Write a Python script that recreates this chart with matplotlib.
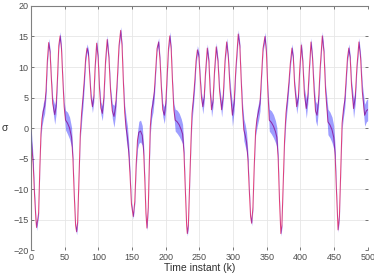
import matplotlib

matplotlib.use("Agg")
import matplotlib.pyplot as plt
import numpy as np

# time instants (k) where the trace was read off, estimated mean sigma and band half-width
k_vals = [
    0, 3, 5, 7, 8, 11, 13, 14.5, 16, 18, 20, 22, 24, 26, 28, 30, 32, 35, 37, 39,
    41, 43, 45, 47, 49, 51, 54, 57, 60, 62, 64, 66, 67.5, 69, 71, 73, 75, 77, 79, 81,
    83, 85, 87, 89, 91, 93, 95, 97.3, 99.5, 101.5, 103.5, 105.7, 108, 110.5, 113, 115.5, 118, 120.5, 123, 125.5,
    128, 130.5, 133, 135, 137, 139, 141, 143, 145, 147, 149, 151.7, 154, 156, 158, 160, 162.5, 165, 167, 169,
    170.5, 172, 174, 175.5, 177, 179, 181, 183, 185, 187, 189.4, 191.5, 193.5, 195.5, 197.8, 200, 202, 204, 206, 208,
    210, 212, 214, 217, 220, 223, 225, 227, 229, 231, 232, 233.5, 235.5, 237.5, 239, 241, 243, 245, 247, 249,
    251, 253, 255, 257, 259, 261.7, 264, 266, 268, 270, 272.5, 275, 277.5, 280, 283, 285.5, 288, 290.5, 293, 295.5,
    299, 301.5, 304, 307.7, 310, 312, 314, 316, 318, 320, 322, 324, 326, 327.6, 329.5, 331.5, 333.5, 335.5, 338, 340,
    342, 344.5, 347.4, 349.5, 351.5, 353.8, 357, 360, 363, 365, 367, 369, 371, 372.5, 374.5, 376.5, 378.6, 381, 383, 385,
    387.5, 389.5, 391.5, 394.5, 397, 399, 401.4, 403.5, 406, 408.8, 411, 413.5, 415.8, 418, 420.5, 422.5, 424.7, 427, 429.5, 432.6,
    435, 437.5, 441, 444, 447, 449.5, 451.5, 453.5, 456, 458, 460, 462, 464, 466, 468, 470, 472, 474, 476, 479,
    481.5, 484, 487, 489.5, 492, 495.5, 498, 500,
]
sigma_vals = [
    -1.5, -6, -11, -15, -16.3, -14, -6, -1, 1.5, 2.8, 3.6, 6, 11, 14, 12.5, 8, 4, 2.2, 3.5, 8,
    13.5, 15.1, 13, 8, 3.5, 1.3, 0.8, 0, -1.5, -5, -11, -16, -17, -15.5, -8, -1, 2.5, 5, 8, 11.5,
    13.1, 12.3, 8.5, 5, 3.5, 5, 10, 13.9, 11.5, 6.5, 3.3, 2.4, 5, 11, 14.5, 11.5, 6, 2.8, 1.9, 3.5,
    8, 13.5, 16, 13.5, 7.5, 2.5, 0, -1.5, -4, -8, -12.5, -14.5, -12, -6, -2, -0.7, -0.5, -1.2, -3.6, -9,
    -14, -16.4, -13, -6, 0.2, 3, 4, 6, 9.5, 13, 14.1, 11, 6.5, 3, 2.1, 4, 8.5, 13, 15.1, 13,
    7.5, 3, 1.3, 1, 0.5, -0.3, -1, -4, -10, -16, -17.3, -16, -9, -2, 2.4, 4.7, 7.5, 11, 12.8, 12,
    8.5, 5, 3.5, 5, 9, 13.1, 11, 6, 3, 4.2, 9.5, 13.3, 11, 6, 3, 5.5, 11, 14.1, 11.5, 6.5,
    2.1, 4, 9.5, 15.4, 13.5, 8, 3, -0.3, -1.2, -2.3, -5, -10, -14.5, -15.6, -13, -6, -0.5, 1.5, 2.8, 4,
    8, 13, 15, 12.5, 6.5, 1.3, 0.9, 0.3, -0.6, -1.5, -5, -12, -17.3, -16, -9, -2, 2.4, 5, 7.5, 10.5,
    13.1, 11.5, 7, 3.5, 5, 9.5, 13.6, 11, 5.5, 3.2, 5, 10, 14.1, 11.5, 6, 2.8, 2.1, 4.5, 10, 15.1,
    12.5, 6, 1, 0.5, -0.3, -1.5, -4, -10, -16.7, -14.5, -7, 0.8, 3, 4.5, 8, 11.5, 13.1, 11.5, 7, 3.2,
    5, 10, 14.1, 11.5, 6, 2.1, 2.8, 3,
]
band_vals = [
    1.4, 1.0, 0.6, 0.5, 0.5, 0.4, 0.4, 0.6, 1.2, 1.3, 1.2, 1.0, 0.6, 0.7, 0.5, 0.5, 1.0, 1.6, 1.2, 0.6,
    0.5, 0.7, 0.5, 0.5, 0.8, 1.6, 1.8, 1.8, 1.6, 0.7, 0.4, 0.4, 0.5, 0.4, 0.4, 0.7, 1.4, 1.4, 1.0, 0.6,
    0.7, 0.6, 0.5, 0.7, 1.0, 0.7, 0.5, 0.7, 0.5, 0.6, 1.0, 1.2, 0.7, 0.5, 0.7, 0.5, 0.6, 1.2, 1.8, 1.2,
    0.6, 0.5, 0.6, 0.5, 0.5, 1.2, 1.8, 1.8, 1.4, 0.7, 0.4, 0.4, 0.4, 0.7, 1.4, 1.8, 1.8, 1.6, 1.0, 0.5,
    0.4, 0.4, 0.4, 0.6, 1.2, 1.4, 1.4, 1.1, 0.6, 0.5, 0.7, 0.5, 0.6, 1.1, 1.4, 1.0, 0.6, 0.5, 0.7, 0.5,
    0.5, 1.0, 1.8, 1.9, 1.9, 1.8, 1.6, 0.8, 0.4, 0.4, 0.4, 0.4, 0.4, 0.7, 1.2, 1.2, 1.0, 0.6, 0.7, 0.5,
    0.5, 0.8, 1.2, 0.8, 0.5, 0.7, 0.5, 0.7, 1.2, 0.8, 0.5, 0.7, 0.5, 0.7, 1.2, 0.8, 0.5, 0.7, 0.5, 1.0,
    1.8, 1.2, 0.6, 0.7, 0.5, 0.5, 1.1, 1.8, 1.8, 1.6, 1.0, 0.5, 0.4, 0.4, 0.4, 0.4, 0.7, 1.4, 1.4, 1.2,
    0.6, 0.5, 0.7, 0.5, 0.7, 1.8, 1.9, 1.9, 1.8, 1.6, 0.7, 0.4, 0.4, 0.4, 0.4, 0.7, 1.2, 1.2, 0.8, 0.6,
    0.7, 0.5, 0.7, 1.2, 0.8, 0.5, 0.7, 0.5, 1.0, 1.6, 1.0, 0.5, 0.7, 0.5, 1.0, 1.6, 1.8, 1.1, 0.5, 0.7,
    0.5, 1.0, 2.1, 2.1, 2.1, 1.9, 1.2, 0.6, 0.4, 0.4, 0.5, 1.0, 1.2, 1.2, 0.8, 0.6, 0.7, 0.5, 0.8, 1.6,
    1.0, 0.5, 0.7, 0.6, 1.2, 1.8, 1.8, 1.8,
]

k = np.array(k_vals)
sigma = np.array(sigma_vals)
band = np.array(band_vals)

plt.rcParams["font.family"] = ["Liberation Sans", "DejaVu Sans"]

fig = plt.figure(figsize=(3.74, 2.80), dpi=100)
ax = fig.add_axes([0.0834, 0.107, 0.8997, 0.8716])

ax.plot(k, sigma, color="#e4447a", linewidth=0.75, zorder=2)
ax.fill_between(k, sigma - band, sigma + band, color="#0000ff", alpha=0.38,
                linewidth=0, zorder=3)

ax.set_xlim(0, 500)
ax.set_ylim(-20, 20)
ax.set_xticks(np.arange(0, 501, 50))
ax.set_yticks(np.arange(-20, 21, 5))
ax.grid(True, color="#e6e6e6", linewidth=0.6, zorder=0)
ax.set_axisbelow(True)

for side in ["top", "left"]:
    ax.spines[side].set_color("#808080")
    ax.spines[side].set_linewidth(0.8)
for side in ["bottom", "right"]:
    ax.spines[side].set_visible(False)

ax.tick_params(direction="in", length=2.0, width=0.6, color="#606060",
               labelsize=6.5, labelcolor="#4d4d4d", pad=2,
               top=True, right=True)

ax.set_xlabel("Time instant (k)", fontsize=7.5, color="#303030", labelpad=1)
ax.set_ylabel("σ", fontsize=7.5, color="#303030", rotation=0, labelpad=6,
              va="center")

fig.savefig("out.png", dpi=100)
plt.close(fig)
